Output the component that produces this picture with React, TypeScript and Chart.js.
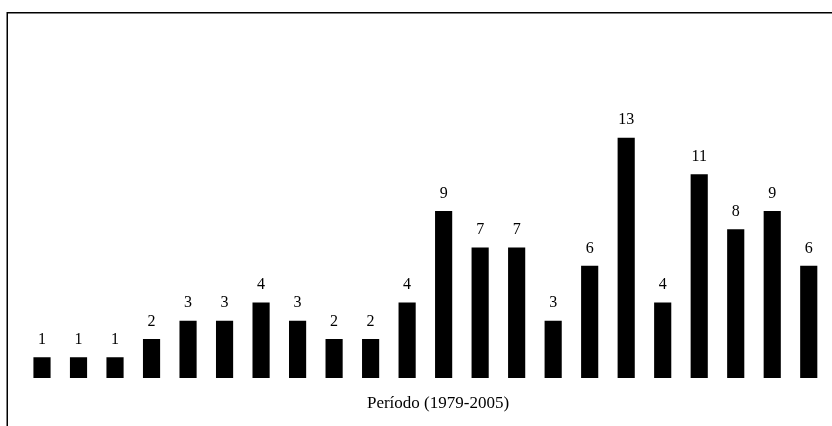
import React, { useEffect, useRef } from "react";
import { Chart, registerables } from "chart.js";

Chart.register(...registerables);

const categories = [
  "1979", "1980", "1981", "1982", "1983", "1984", "1985", "1986", "1987", "1988", "1989",
  "1990", "1991", "1992", "1993", "1994", "1995", "1996", "1997", "1998", "1999", "2000",
];
const counts = [1, 1, 1, 2, 3, 3, 4, 3, 2, 2, 4, 9, 7, 7, 3, 6, 13, 4, 11, 8, 9, 6];
const axisTitle = "Período (1979-2005)";

const FONT = '"Liberation Serif", "Times New Roman", serif';

const framePlugin = {
  id: "frame",
  beforeDraw(chart: any) {
    const ctx = chart.ctx;
    ctx.save();
    ctx.fillStyle = "#ffffff";
    ctx.fillRect(0, 0, chart.width, chart.height);
    ctx.strokeStyle = "#000000";
    ctx.lineWidth = 1.5;
    ctx.strokeRect(7.25, 12.75, chart.width, chart.height);
    ctx.restore();
  },
};

const valueLabelPlugin = {
  id: "valueLabels",
  afterDatasetsDraw(chart: any) {
    const ctx = chart.ctx;
    const meta = chart.getDatasetMeta(0);
    const data = chart.data.datasets[0].data as number[];
    ctx.save();
    ctx.font = `16px ${FONT}`;
    ctx.fillStyle = "#000000";
    ctx.textAlign = "center";
    ctx.textBaseline = "alphabetic";
    meta.data.forEach((bar: any, i: number) => {
      ctx.fillText(String(data[i]), bar.x, bar.y - 13.3);
    });
    // axis title, centred on the whole (framed) canvas
    ctx.font = `17px ${FONT}`;
    ctx.fillText(axisTitle, chart.width / 2, chart.chartArea.bottom + 29.7);
    ctx.restore();
  },
};

export default function App() {
  const ref = useRef<HTMLCanvasElement | null>(null);

  useEffect(() => {
    if (!ref.current) return;
    const chart = new Chart(ref.current, {
      type: "bar",
      data: {
        labels: categories,
        datasets: [
          {
            data: counts,
            backgroundColor: "#000000",
            borderWidth: 0,
            categoryPercentage: 1,
            barPercentage: 0.47,
            base: -0.13,
          },
        ],
      },
      options: {
        animation: false,
        responsive: false,
        maintainAspectRatio: false,
        events: [],
        layout: { padding: { left: 23.75, right: 49, top: 40, bottom: 48 } },
        plugins: {
          legend: { display: false },
          tooltip: { enabled: false },
          title: { display: false },
        },
        scales: {
          x: { display: false },
          y: { display: false, min: -0.13, max: 18.34 },
        },
      },
      plugins: [framePlugin, valueLabelPlugin],
    });
    return () => chart.destroy();
  }, []);

  return (
    <div
      style={{
        position: "fixed",
        left: 0,
        top: 0,
        width: 832,
        height: 426,
        overflow: "hidden",
        background: "#ffffff",
      }}
    >
      <canvas ref={ref} width={876} height={426} style={{ display: "block" }} />
    </div>
  );
}
